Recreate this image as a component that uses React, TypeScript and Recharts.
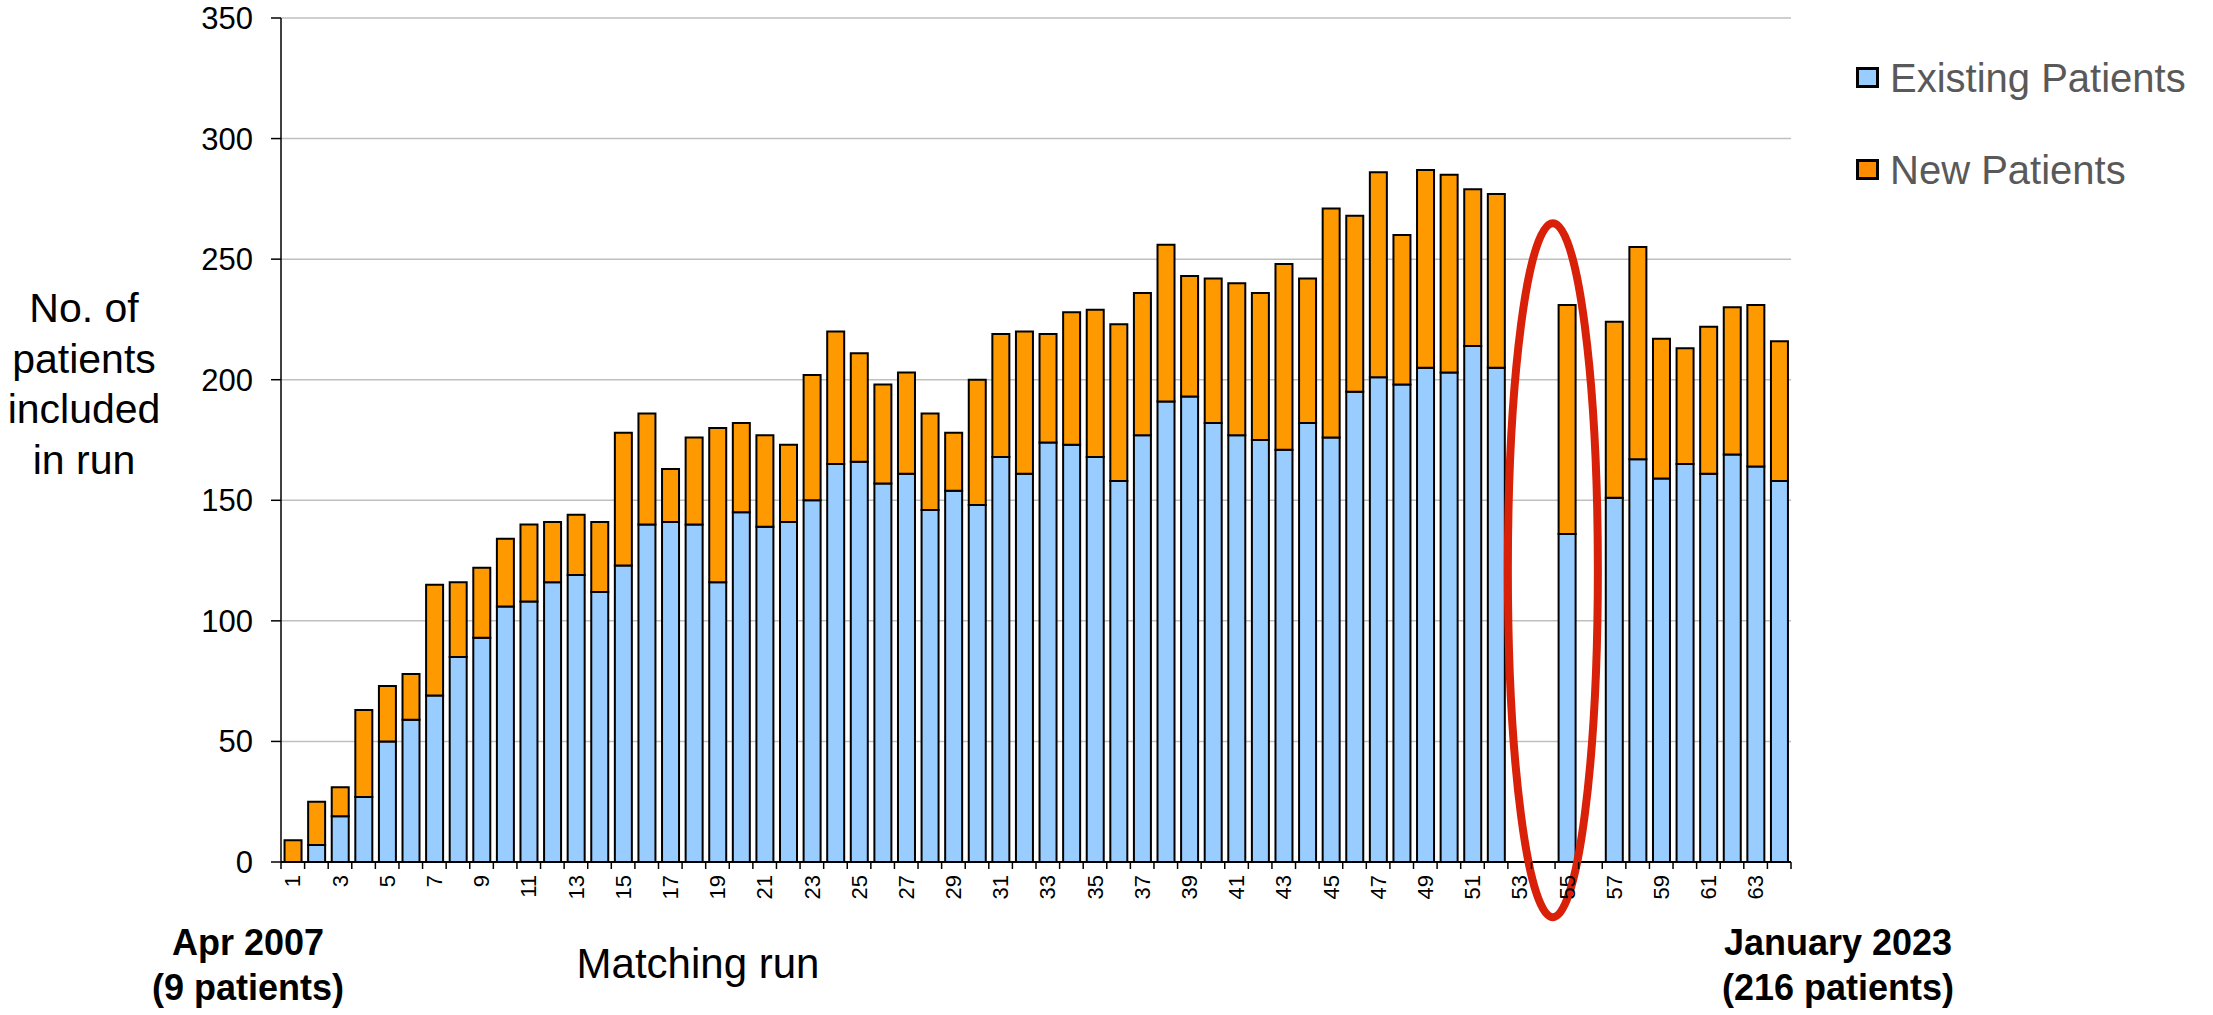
import React from 'react';
import { BarChart, Bar, XAxis, YAxis, CartesianGrid, Legend, ReferenceDot } from 'recharts';

const FONT = '"Liberation Sans", Arial, Helvetica, sans-serif';

// matching run numbers (category axis)
const runs = [
  1, 2, 3, 4, 5, 6, 7, 8, 9, 10, 11, 12, 13, 14, 15, 16,
  17, 18, 19, 20, 21, 22, 23, 24, 25, 26, 27, 28, 29, 30, 31, 32,
  33, 34, 35, 36, 37, 38, 39, 40, 41, 42, 43, 44, 45, 46, 47, 48,
  49, 50, 51, 52, 53, 54, 55, 56, 57, 58, 59, 60, 61, 62, 63, 64,
];

const existingPatients = [
  0, 7, 19, 27, 50, 59, 69, 85, 93, 106, 108, 116, 119, 112, 123, 140,
  141, 140, 116, 145, 139, 141, 150, 165, 166, 157, 161, 146, 154, 148, 168, 161,
  174, 173, 168, 158, 177, 191, 193, 182, 177, 175, 171, 182, 176, 195, 201, 198,
  205, 203, 214, 205, 0, 0, 136, 0, 151, 167, 159, 165, 161, 169, 164, 158,
];

const newPatients = [
  9, 18, 12, 36, 23, 19, 46, 31, 29, 28, 32, 25, 25, 29, 55, 46,
  22, 36, 64, 37, 38, 32, 52, 55, 45, 41, 42, 40, 24, 52, 51, 59,
  45, 55, 61, 65, 59, 65, 50, 60, 63, 61, 77, 60, 95, 73, 85, 62,
  82, 82, 65, 72, 0, 0, 95, 0, 73, 88, 58, 48, 61, 61, 67, 58,
];

const yTicks = [0, 50, 100, 150, 200, 250, 300, 350];

const data = runs.map((run, i) => ({
  run,
  existing: existingPatients[i],
  added: newPatients[i],
}));

const PLOT_W = 1510;
const BAND = PLOT_W / runs.length;

// Excel style category axis: tick marks between categories, every other label rotated
function XTick(props: any) {
  const { x, y, payload, index } = props;
  const left = x - BAND / 2;
  const ty = y + 13;
  return (
    <g>
      <line x1={left} y1={y} x2={left} y2={y + 7} stroke="#000" strokeWidth={1.5} />
      {index === runs.length - 1 && (
        <line x1={x + BAND / 2} y1={y} x2={x + BAND / 2} y2={y + 7} stroke="#000" strokeWidth={1.5} />
      )}
      {index % 2 === 0 && (
        <text
          x={x}
          y={ty}
          dy="0.35em"
          transform={`rotate(-90, ${x}, ${ty})`}
          textAnchor="end"
          fontSize={22}
          fontFamily={FONT}
          fill="#000"
        >
          {payload.value}
        </text>
      )}
    </g>
  );
}

const legendColors: Record<string, string> = {
  existing: '#99CCFF',
  added: '#FF8C00',
};

function LegendBox(props: any) {
  const payload = props.payload || [];
  return (
    <svg width={361} height={220} style={{ display: 'block' }}>
      {payload.map((entry: any, i: number) => (
        <g key={entry.value}>
          <rect x={5.5} y={68.5 + i * 92} width={20} height={18} fill={legendColors[entry.dataKey] || entry.color} stroke="#000" strokeWidth={3} />
          <text x={38} y={92 + i * 92} fontSize={40} fontFamily={FONT} fill="#595959">
            {entry.value}
          </text>
        </g>
      ))}
    </svg>
  );
}

export default function App() {
  return (
    <div style={{ position: 'absolute', left: 0, top: 0, width: 2213, height: 1015, background: '#fff', fontFamily: FONT }}>
      <BarChart
        width={2213}
        height={1015}
        data={data}
        margin={{ top: 18, right: 422, left: 200, bottom: 93 }}
        barCategoryGap="15%"
      >
        <CartesianGrid vertical={false} stroke="#BFBFBF" strokeWidth={1.5} />
        <XAxis
          dataKey="run"
          height={60}
          interval={0}
          tickLine={false}
          tickSize={0}
          tickMargin={0}
          axisLine={{ stroke: '#000', strokeWidth: 2 }}
          tick={<XTick />}
        />
        <YAxis
          width={81}
          domain={[0, 350]}
          ticks={yTicks}
          interval={0}
          tickSize={10}
          tickMargin={18}
          axisLine={{ stroke: '#000', strokeWidth: 1.5 }}
          tickLine={{ stroke: '#000', strokeWidth: 1.5 }}
          tick={{ fill: '#000', fontSize: 31, fontFamily: FONT }}
        />
        <Legend
          layout="vertical"
          align="center"
          verticalAlign="middle"
          wrapperStyle={{ left: 1852, top: 0, width: 361 }}
          content={<LegendBox />}
        />
        <Bar dataKey="existing" name="Existing Patients" stackId="a" fill="#99CCFF" stroke="#000" strokeWidth={2} isAnimationActive={false} />
        <Bar dataKey="added" name="New Patients" stackId="a" fill="#FF9900" stroke="#000" strokeWidth={2} isAnimationActive={false} />
        <ReferenceDot
          x={55}
          y={121}
          r={1}
          ifOverflow="visible"
          shape={(p: any) => (
            <ellipse cx={p.cx - 14} cy={p.cy} rx={45} ry={347} fill="none" stroke="#D92008" strokeWidth={8} />
          )}
        />
      </BarChart>
      <svg width={2213} height={1015} style={{ position: 'absolute', left: 0, top: 0, pointerEvents: 'none' }}>
        <g fontFamily={FONT} fontSize={41} fill="#000" textAnchor="middle">
          <text x={84} y={322}>No. of</text>
          <text x={84} y={373}>patients</text>
          <text x={84} y={423}>included</text>
          <text x={84} y={474}>in run</text>
        </g>
        <text x={698} y={978} fontFamily={FONT} fontSize={42} textAnchor="middle" fill="#000">Matching run</text>
        <g fontFamily={FONT} fontSize={36} fontWeight="bold" textAnchor="middle" fill="#000">
          <text x={248} y={955}>Apr 2007</text>
          <text x={248} y={1000}>(9 patients)</text>
          <text x={1838} y={955}>January 2023</text>
          <text x={1838} y={1000}>(216 patients)</text>
        </g>
      </svg>
    </div>
  );
}
